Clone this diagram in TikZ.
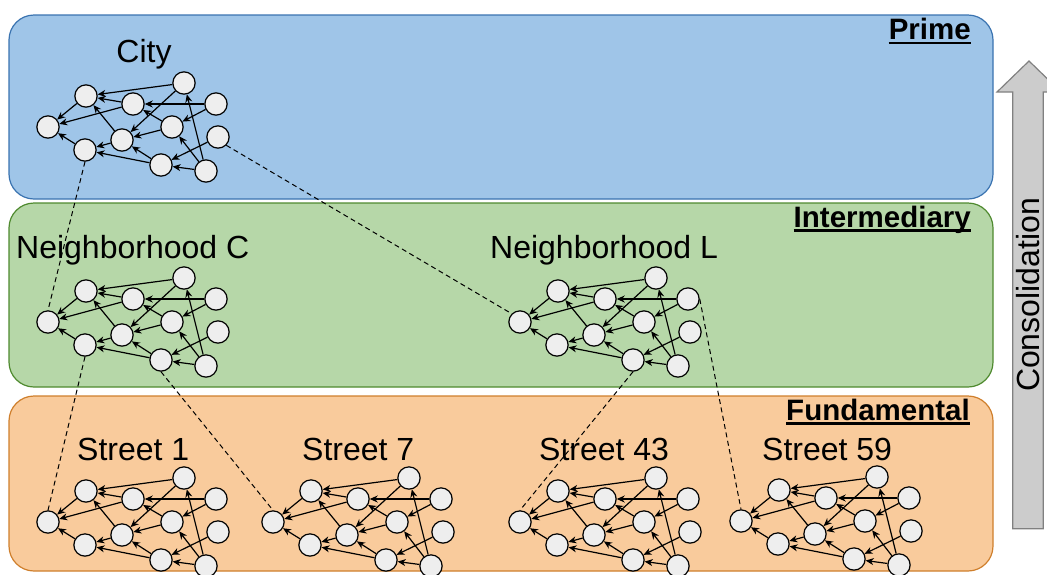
\documentclass[tikz,border=0pt]{standalone}
\usepackage{fontspec}
\setmainfont{Liberation Sans}
\usetikzlibrary{arrows.meta}
\definecolor{primefill}{HTML}{9FC5E8}
\definecolor{primeline}{HTML}{3A73B0}
\definecolor{midfill}{HTML}{B6D7A8}
\definecolor{midline}{HTML}{4F8A2F}
\definecolor{fundfill}{HTML}{F9CB9C}
\definecolor{fundline}{HTML}{CF7F2C}
\definecolor{nodefill}{HTML}{EEEEEE}
\definecolor{arrfill}{HTML}{CCCCCC}
\definecolor{arrline}{HTML}{808080}
\tikzset{
  gn/.style={circle,draw=black,fill=nodefill,line width=1.2pt,minimum size=22.3pt,inner sep=0pt},
  ge/.style={line width=1.2pt,-{Stealth[length=8pt,width=7pt]}},
  dl/.style={line width=1pt,dash pattern=on 5pt off 3.5pt},
  band/.style={rounded corners=25pt,line width=1.2pt},
  lbl/.style={inner sep=0pt,font=\fontsize{32}{38}\selectfont},
  lvl/.style={inner sep=0pt,font=\fontsize{29.5}{35}\selectfont\bfseries},
  uline/.style={line width=2.6pt}
}
\newcommand\grcluster[3]{%
  \begin{scope}[shift={(#2,#3)}]
    \node[gn] (#1A) at (0,0) {};
    \node[gn] (#1B) at (38,-31) {};
    \node[gn] (#1C) at (85,-23) {};
    \node[gn] (#1D) at (136,-44) {};
    \node[gn] (#1E) at (168,-23) {};
    \node[gn] (#1F) at (124,0) {};
    \node[gn] (#1G) at (170,10) {};
    \node[gn] (#1H) at (74,13) {};
    \node[gn] (#1I) at (37,23) {};
    \node[gn] (#1J) at (113,38) {};
    \node[gn] (#1K) at (158,44) {};
  \end{scope}
  \foreach \ga/\gb in {B/A,C/A,I/A,D/B,C/B,H/B,E/C,F/C,D/H,F/H,J/H,H/I,J/I,E/F,K/D,K/F,G/J,K/J}
    {\draw[ge] (#1\ga) -- (#1\gb);}
}
\begin{document}
\begin{tikzpicture}[x=1pt,y=-1pt]
\useasboundingbox (0,0) rectangle (1047,574);
% bands
\draw[band,fill=primefill,draw=primeline] (9,15) rectangle (993,199);
\draw[band,fill=midfill,draw=midline] (9,203) rectangle (993,387);
\draw[band,fill=fundfill,draw=fundline] (9,396) rectangle (993,571);
% level labels
\node[lvl,anchor=base east] (prime) at (971,39.5) {Prime};
\draw[uline] ([yshift=-3.5pt]prime.base west) -- ([yshift=-3.5pt]prime.base east);
\node[lvl,anchor=base east] (inter) at (971,227) {Intermediary};
\draw[uline] ([yshift=-3.5pt]inter.base west) -- ([yshift=-3.5pt]inter.base east);
\node[lvl,anchor=base east] (fund) at (970,420) {Fundamental};
\draw[uline] ([yshift=-3.5pt]fund.base west) -- ([yshift=-3.5pt]fund.base east);
% graph labels
\node[lbl,anchor=base] (citylbl) at (144,62) {City};
\node[lbl,anchor=base west] (nclbl) at (16,258) {Neighborhood C};
\node[lbl,anchor=base west] (nllbl) at (490,258) {Neighborhood L};
\node[lbl,anchor=base west] (s1lbl) at (77,460) {Street 1};
\node[lbl,anchor=base west] (s7lbl) at (302,460) {Street 7};
\node[lbl,anchor=base west] (s43lbl) at (539,460) {Street 43};
\node[lbl,anchor=base west] (s59lbl) at (762,460) {Street 59};
% graphs
\grcluster{ci}{48}{127}
\grcluster{nc}{48}{322}
\grcluster{nl}{520}{322}
\grcluster{sa}{48}{522}
\grcluster{sb}{273}{522}
\grcluster{sc}{520}{522}
\grcluster{sd}{741}{521}
% consolidation links
\draw[dl] (ciI.south) -- (ncA.north);
\draw[dl] (ciG.-45) -- (nlA.135);
\draw[dl] (ncI.south) -- (saA.north);
\draw[dl] (ncJ.south) -- (sbA.north);
\draw[dl] (nlJ.south) -- (scA.north);
\draw[dl] (nlE.east) -- (sdA.north);
% consolidation arrow
\draw[fill=arrfill,draw=arrline,line width=1.2pt] (1029,61) -- (1061,92) -- (1043.3,92) -- (1043.3,528.7) -- (1012.7,528.7) -- (1012.7,92) -- (997,92) -- cycle;
\node[lbl,rotate=90] (cons) at (1028.3,295) {Consolidation};
\end{tikzpicture}
\end{document}
